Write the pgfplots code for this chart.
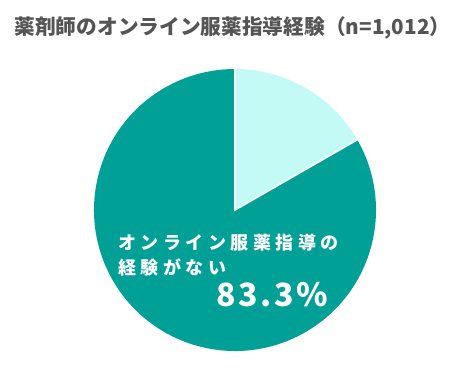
\documentclass[border=0pt]{standalone}
\usepackage{fontspec}
\setmainfont{Noto Sans CJK JP}
\usepackage{pgfplots}
\usepackage{pgfplotstable}
\pgfplotsset{compat=1.18}
\definecolor{teal1}{HTML}{00A096}
\definecolor{light1}{HTML}{C4FAF6}
\definecolor{titlegray}{HTML}{555555}
\pgfplotstableread{
label value
yes 16.7
no 83.3
}\piedata
\begin{document}
\begin{tikzpicture}[x=1pt,y=1pt]
\useasboundingbox (0pt,0pt) rectangle (466pt,372pt);
\pgfplotstablegetelem{0}{value}\of\piedata
\pgfmathsetmacro{\ea}{90-3.6*\pgfplotsretval}
\pgfplotstablegetelem{1}{value}\of\piedata
\pgfmathsetmacro{\eb}{\ea-3.6*\pgfplotsretval}
\begin{axis}[x=141pt,y=141pt,xmin=-1,xmax=1,ymin=-1,ymax=1,
  hide axis,anchor=center,at={(235pt,162pt)},clip=false]
\fill[light1] (axis cs:0,0) -- (axis cs:0,1) arc[start angle=90,end angle=\ea,radius=141pt] -- cycle;
\fill[teal1] (axis cs:0,0) -- (axis cs:{cos(\ea)},{sin(\ea)}) arc[start angle=\ea,end angle=\eb,radius=141pt] -- cycle;
\draw[white,line width=1.6pt] (axis cs:0,1) -- (axis cs:0,0) -- (axis cs:{cos(\ea)},{sin(\ea)});
\end{axis}
\node[anchor=center,inner sep=0,text=titlegray,font=\bfseries\fontsize{20.7}{24}\selectfont] at (232.5pt,344pt) {薬剤師のオンライン服薬指導経験（n=1,012）};
\node[anchor=west,inner sep=0,text=white,font=\bfseries\fontsize{18}{22}\selectfont\addfontfeature{LetterSpace=25}] at (118pt,129.5pt) {オンライン服薬指導の};
\node[anchor=west,inner sep=0,text=white,font=\bfseries\fontsize{18}{22}\selectfont\addfontfeature{LetterSpace=25}] at (118pt,104.5pt) {経験がない};
\node[anchor=west,inner sep=0,text=white,font=\bfseries\fontsize{32}{36}\selectfont\addfontfeature{LetterSpace=8}] at (216pt,77pt) {83.3\%};
\end{tikzpicture}
\end{document}
